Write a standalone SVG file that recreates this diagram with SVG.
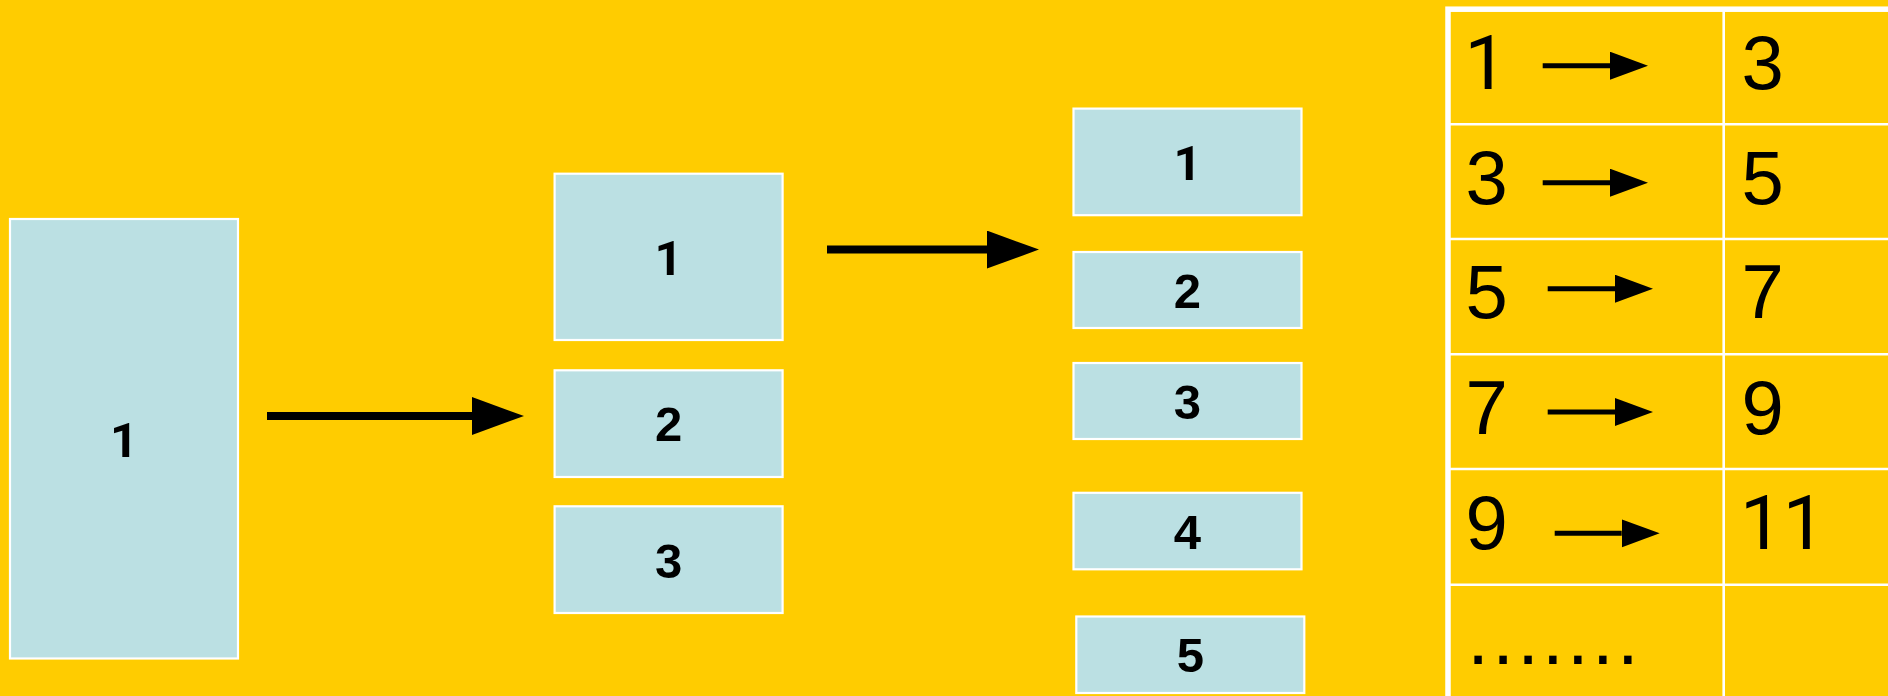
<svg xmlns="http://www.w3.org/2000/svg" width="1888" height="696" viewBox="0 0 1888 696">
<defs>
<style>
.box{fill:#BBE0E3;stroke:#FFFFFF;stroke-width:2.2}
.lbl{font-family:"Liberation Sans",Arial,sans-serif;font-weight:bold;font-size:49px;fill:#000;text-anchor:middle}
.big{stroke:#000;stroke-width:8;fill:none}
.small{stroke:#000;stroke-width:5;fill:none}
.cell{font-family:"Liberation Sans",Arial,sans-serif;font-size:76px;fill:#000}
.grid{stroke:#FFFFFF;stroke-width:2.6;fill:none}
.one{font-family:Roboto,"Liberation Sans",Arial,sans-serif}
</style>
<marker id="headBig" markerUnits="userSpaceOnUse" markerWidth="53" markerHeight="40" refX="0" refY="19" orient="auto" viewBox="0 0 53 40">
<path d="M0,0 L52,19 L0,38 Z" fill="#000"/>
</marker>
<marker id="headSmall" markerUnits="userSpaceOnUse" markerWidth="39" markerHeight="29" refX="0" refY="14" orient="auto" viewBox="0 0 39 29">
<path d="M0,0 L38,14 L0,28 Z" fill="#000"/>
</marker>
</defs>
<rect x="0" y="0" width="1888" height="696" fill="#FFCC00"/>

<g id="node-big1"><rect class="box" x="10" y="219" width="228" height="439.5"/><text class="lbl one" x="124" y="456.5">1</text></g>

<g id="node-m1"><rect class="box" x="554.6" y="173.7" width="228" height="166.3"/><text class="lbl one" x="668.6" y="274.5">1</text></g>
<g id="node-m2"><rect class="box" x="554.6" y="370.3" width="228" height="106.7"/><text class="lbl" x="668.6" y="441.3">2</text></g>
<g id="node-m3"><rect class="box" x="554.6" y="506.3" width="228" height="106.7"/><text class="lbl" x="668.6" y="577.5">3</text></g>

<g id="node-r1"><rect class="box" x="1073.5" y="108.6" width="228" height="106.6"/><text class="lbl one" x="1187.5" y="179.5">1</text></g>
<g id="node-r2"><rect class="box" x="1073.5" y="252" width="228" height="76"/><text class="lbl" x="1187.5" y="307.5">2</text></g>
<g id="node-r3"><rect class="box" x="1073.5" y="363" width="228" height="76"/><text class="lbl" x="1187.5" y="418.5">3</text></g>
<g id="node-r4"><rect class="box" x="1073.5" y="492.8" width="228" height="76.5"/><text class="lbl" x="1187.5" y="548.5">4</text></g>
<g id="node-r5"><rect class="box" x="1076.3" y="616.5" width="228" height="76.5"/><text class="lbl" x="1190.3" y="672.3">5</text></g>

<g id="connectors">
<line class="big" x1="267" y1="416" x2="472" y2="416" marker-end="url(#headBig)"/>
<line class="big" x1="827" y1="249.6" x2="987" y2="249.6" marker-end="url(#headBig)"/>
</g>

<g id="table">
<rect x="1448" y="9.2" width="460" height="700" fill="none" stroke="#FFFFFF" stroke-width="5.5"/>
<line class="grid" x1="1450" y1="124.2" x2="1888" y2="124.2"/>
<line class="grid" x1="1450" y1="239" x2="1888" y2="239"/>
<line class="grid" x1="1450" y1="354.2" x2="1888" y2="354.2"/>
<line class="grid" x1="1450" y1="469" x2="1888" y2="469"/>
<line class="grid" x1="1450" y1="584.7" x2="1888" y2="584.7"/>
<line class="grid" x1="1723.7" y1="11" x2="1723.7" y2="696"/>

<text class="cell one" x="1464.5" y="89.3">1</text>
<text class="cell" x="1465.5" y="204">3</text>
<text class="cell" x="1465.5" y="317.8">5</text>
<text class="cell" x="1465.5" y="434">7</text>
<text class="cell" x="1465.5" y="549">9</text>
<text class="cell" x="1467.2" y="664.3" style="font-size:78px;letter-spacing:3.3px">.......</text>

<text class="cell" x="1741.5" y="89.3">3</text>
<text class="cell" x="1741.5" y="204">5</text>
<text class="cell" x="1741.5" y="317.8">7</text>
<text class="cell" x="1741.5" y="433.5">9</text>
<text class="cell one" x="1740" y="549.3">11</text>

<line class="small" x1="1542.7" y1="65.7" x2="1610" y2="65.7" marker-end="url(#headSmall)"/>
<line class="small" x1="1542.7" y1="182.7" x2="1610" y2="182.7" marker-end="url(#headSmall)"/>
<line class="small" x1="1547.7" y1="288.7" x2="1615" y2="288.7" marker-end="url(#headSmall)"/>
<line class="small" x1="1547.7" y1="412" x2="1615" y2="412" marker-end="url(#headSmall)"/>
<line class="small" x1="1554.7" y1="533.3" x2="1621.7" y2="533.3" marker-end="url(#headSmall)"/>
</g>
</svg>
